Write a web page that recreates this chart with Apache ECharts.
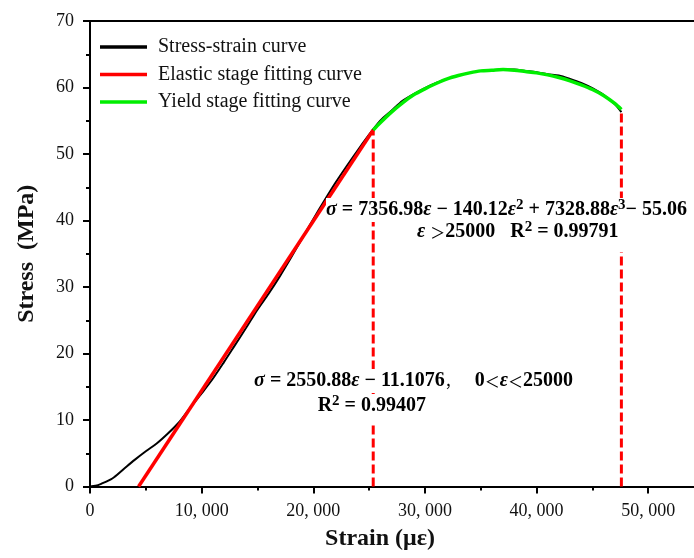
<!DOCTYPE html>
<html>
<head>
<meta charset="utf-8">
<script src="https://cdn.jsdelivr.net/npm/echarts@6/dist/echarts.min.js"></script>
<style>
html, body { margin: 0; padding: 0; background: #fff; }
#chart { width: 694px; height: 558px; }
</style>
</head>
<body>
<div id="chart"></div>
<script>
// Measured stress–strain curve (strain in με, stress in MPa)
const strain = [0, 500, 1000, 2000, 3000, 4000, 5000, 6000, 7000, 8000, 9000, 10000, 11000, 12000,
  13000, 14000, 15000, 16000, 17000, 18000, 19000, 20000, 21000, 22000, 23000, 24000, 25000, 25370,
  26000, 27000, 28000, 29000, 30000, 31000, 32000, 33000, 34000, 35000, 36000, 37000, 38000, 39000,
  40000, 41000, 42000, 43000, 44000, 45000, 46000, 47000, 47600];
const stress = [0, 0.1, 0.4, 1.2, 2.6, 4.0, 5.3, 6.5, 8.0, 9.7, 11.9, 14.0, 16.2, 18.7,
  21.3, 23.9, 26.6, 29.0, 31.6, 34.4, 37.3, 40.2, 43.0, 45.7, 48.2, 50.6, 52.9, 53.7,
  55.0, 56.5, 58.0, 59.0, 59.9, 60.7, 61.3, 61.8, 62.2, 62.5, 62.6, 62.7, 62.7, 62.5,
  62.3, 62.0, 61.8, 61.3, 60.7, 59.9, 58.9, 57.5, 56.3];

// Elastic stage fit (straight line) end points
const elasticStrain = [4354, 25370];
const elasticStress = [0, 53.6];

// Yield stage fit
const yieldStrain = [25370, 26000, 27000, 28000, 29000, 30000, 31000, 32000, 33000, 34000, 35000,
  36000, 37000, 38000, 39000, 40000, 41000, 42000, 43000, 44000, 45000, 46000, 47000, 47600];
const yieldStress = [53.6, 54.7, 56.3, 57.7, 58.9, 59.8, 60.6, 61.3, 61.8, 62.2, 62.5,
  62.6, 62.7, 62.6, 62.4, 62.2, 61.9, 61.5, 61.0, 60.4, 59.7, 58.8, 57.6, 56.7];

// Stage boundaries marked with dashed verticals
const boundaryStrain = [25370, 47600];
const boundaryStress = [53.6, 56.7];

// Axis tick labels
const xTickLabels = ['0', '10, 000', '20, 000', '30, 000', '40, 000', '50, 000'];
const yTickLabels = ['0', '10', '20', '30', '40', '50', '60', '70'];

const zip = (xs, ys) => xs.map((x, i) => [x, ys[i]]);
const serif = 'Liberation Serif';
const ink = '#111';

const chart = echarts.init(document.getElementById('chart'), null, { renderer: 'canvas' });

const eqRich = {
  n: { fontFamily: serif, fontWeight: 'bold', fontSize: 20, lineHeight: 24, color: ink },
  i: { fontFamily: serif, fontWeight: 'bold', fontStyle: 'italic', fontSize: 20, lineHeight: 24, color: ink },
  s: { fontFamily: serif, fontWeight: 'bold', fontSize: 15, lineHeight: 14, verticalAlign: 'top', color: ink },
  c: { fontFamily: 'Noto Sans CJK SC', fontSize: 15, lineHeight: 24, color: ink }
};

function eqText(x, y, text, align, padding) {
  return {
    type: 'text', x: x, y: y, z: 100, silent: true,
    style: {
      text: text, rich: eqRich, align: align, verticalAlign: 'middle',
      backgroundColor: '#fff', padding: padding
    }
  };
}

const boundarySeries = boundaryStrain.map((e, k) => ({
  type: 'line', silent: true, symbol: 'none', z: 3,
  data: [[e, 0], [e, boundaryStress[k]]],
  lineStyle: { color: '#ff0000', width: 3, type: [9, 4] }
}));

const legendNames = ['Stress-strain curve', 'Elastic stage fitting curve', 'Yield stage fitting curve'];

chart.setOption({
  backgroundColor: '#fff',
  animation: false,
  grid: { left: 90, right: -10, top: 21, bottom: 71.5, outerBoundsMode: 'none' },
  legend: {
    data: legendNames.map(n => ({ name: n, icon: 'rect' })),
    orient: 'vertical', left: 100, top: 37, padding: 0,
    itemWidth: 47, itemHeight: 3.5, itemGap: 7.5,
    textStyle: { fontFamily: serif, fontSize: 20, color: ink, padding: [0, 0, 0, 6] }
  },
  xAxis: [{
    type: 'value', min: 0, max: 55000, interval: 10000,
    name: 'Strain (με)', nameLocation: 'middle', nameGap: 40,
    nameTextStyle: { fontFamily: serif, fontSize: 24, fontWeight: 'bold', color: ink, padding: [0, 34, 0, 0] },
    axisLine: { onZero: false, lineStyle: { color: '#000', width: 2 } },
    axisTick: { length: 7, lineStyle: { width: 2, color: '#000' } },
    minorTick: { show: true, splitNumber: 2, length: 4, lineStyle: { width: 2, color: '#000' } },
    splitLine: { show: false },
    axisLabel: {
      margin: 16, fontFamily: serif, fontSize: 18, color: ink,
      formatter: v => xTickLabels[Math.round(v / 10000)] || ''
    }
  }, {
    type: 'value', position: 'top', min: 0, max: 55000,
    axisLine: { onZero: false, lineStyle: { color: '#000', width: 2 } },
    axisTick: { show: false }, axisLabel: { show: false }, splitLine: { show: false }
  }],
  yAxis: {
    type: 'value', min: 0, max: 70, interval: 10,
    name: 'Stress  (MPa)', nameLocation: 'middle', nameGap: 51, nameRotate: 90,
    nameTextStyle: { fontFamily: serif, fontSize: 24, fontWeight: 'bold', color: ink },
    axisLine: { show: true, onZero: false, lineStyle: { color: '#000', width: 2 } },
    axisTick: { show: true, length: 7, lineStyle: { width: 2, color: '#000' } },
    minorTick: { show: true, splitNumber: 2, length: 4, lineStyle: { width: 2, color: '#000' } },
    splitLine: { show: false },
    axisLabel: {
      margin: 16, fontFamily: serif, fontSize: 18, color: ink,
      formatter: v => yTickLabels[Math.round(v / 10)] || ''
    }
  },
  series: [
    {
      name: 'Stress-strain curve', type: 'line', data: zip(strain, stress),
      symbol: 'none', smooth: 0.3, z: 2,
      itemStyle: { color: '#000' }, lineStyle: { color: '#000', width: 2 }
    },
    ...boundarySeries,
    {
      name: 'Elastic stage fitting curve', type: 'line', data: zip(elasticStrain, elasticStress),
      symbol: 'none', z: 4, itemStyle: { color: '#ff0000' }, lineStyle: { color: '#ff0000', width: 3.5 }
    },
    {
      name: 'Yield stage fitting curve', type: 'line', data: zip(yieldStrain, yieldStress),
      symbol: 'none', smooth: 0.3, z: 5, itemStyle: { color: '#00ee00' }, lineStyle: { color: '#00ee00', width: 3.5 }
    }
  ],
  graphic: [
    eqText(326, 210, '{i|σ}{n| = 7356.98}{i|ε}{n| − 140.12}{i|ε}{s|2}{n| + 7328.88}{i|ε}{s|3}{n|− 55.06}', 'left', [0, 4, 0, 0]),
    eqText(415, 236, '{i|ε }{c|＞}{n|25000   R}{s|2}{n| = 0.99791}', 'left', [0, 10, 8, 2]),
    eqText(575, 381, '{i|σ}{n| = 2550.88}{i|ε}{n| − 11.1076}{c|，}{n|   0}{c|＜}{i|ε}{c|＜}{n|25000}', 'right', [0, 2, 0, 2]),
    eqText(428, 408, '{n|R}{s|2}{n| = 0.99407}', 'right', [0, 2, 4, 2])
  ]
});
</script>
</body>
</html>
